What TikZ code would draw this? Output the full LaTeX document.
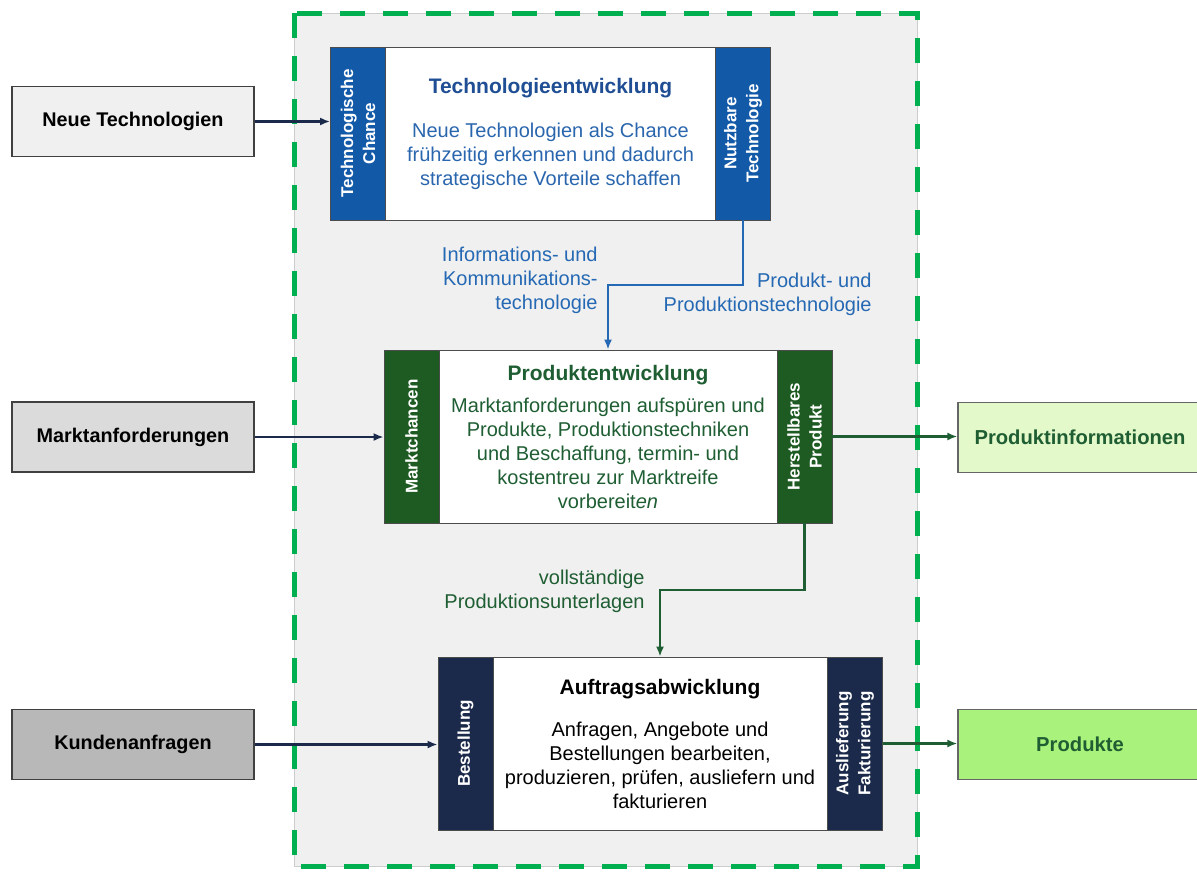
\documentclass[tikz,border=0pt]{standalone}
\usepackage{fontspec}
\setmainfont{Liberation Sans}
\usetikzlibrary{arrows.meta,positioning,calc}
\definecolor{ProcBlue}{HTML}{1259A8}
\definecolor{ProcBlueText}{HTML}{2A66AE}
\definecolor{ProcBlueHead}{HTML}{1F4E94}
\definecolor{ProcGreen}{HTML}{1E5B22}
\definecolor{ProcGreenText}{HTML}{1F5E33}
\definecolor{ProcNavy}{HTML}{1B2A4A}
\definecolor{FrameGreen}{HTML}{00B050}
\definecolor{FrameGray}{HTML}{F0F0F0}
\definecolor{LinkBlue}{HTML}{2569B4}
\definecolor{OutGreenA}{HTML}{E3F9C9}
\definecolor{OutGreenB}{HTML}{A9F27B}
\tikzset{
  strip/.style={draw=gray!60!black,line width=0.4pt,minimum width=27.5pt,minimum height=86.5pt,inner sep=0pt},
  striptxt/.style={rotate=90,text=white,align=center,font=\fontsize{8.5}{11}\selectfont\bfseries},
  body/.style={draw=gray!60!black,line width=0.4pt,fill=white,minimum height=86.5pt,inner sep=0pt,align=center,font=\fontsize{10}{12}\selectfont},
  inbox/.style={draw=black!75,line width=0.6pt,minimum width=121pt,minimum height=35pt,font=\fontsize{9.9}{11}\selectfont\bfseries},
  outbox/.style={draw=black!60,line width=0.6pt,minimum width=122pt,minimum height=35pt,text=ProcGreenText,font=\fontsize{10.1}{11}\selectfont\bfseries},
  lbl/.style={align=right,anchor=east,inner sep=0pt,font=\fontsize{10}{12}\selectfont}
}

\begin{document}
\begin{tikzpicture}[x=0.5pt,y=-0.5pt,>={Latex[length=5pt,width=4pt]}]
  \useasboundingbox (0,0) rectangle (1197,873);
  \draw[gray!40,fill=FrameGray] (294,13) rectangle (917,866);
  \draw[FrameGreen,line width=2.5pt,dash pattern=on 12.5pt off 9pt] (294,13) rectangle (917,866);

  \node[strip,fill=ProcBlue] (techL) at (358,133.5) {};
  \node[body,minimum width=165.5pt,text=ProcBlueText] (techM) at (550.5,133.5)
    {{\color{ProcBlueHead}\bfseries\fontsize{10.5}{12}\selectfont Technologieentwicklung}\\[10pt]
     Neue Technologien als Chance\\ frühzeitig erkennen und dadurch\\ strategische Vorteile schaffen};
  \node[strip,fill=ProcBlue] (techR) at (743,133.5) {};
  \node[striptxt] at (techL) {Technologische\\Chance};
  \node[striptxt] at (techR) {Nutzbare\\Technologie};

  \node[strip,fill=ProcGreen] (prodL) at (411.5,436.5) {};
  \node[body,minimum width=169pt,text=ProcGreenText] (prodM) at (608,436.5)
    {{\bfseries\fontsize{10.5}{12}\selectfont Produktentwicklung}\\[4pt]
     Marktanforderungen aufspüren und\\ Produkte, Produktionstechniken\\ und Beschaffung, termin- und\\
     kostentreu zur Marktreife\\ vorbereit\textit{en}};
  \node[strip,fill=ProcGreen] (prodR) at (804.5,436.5) {};
  \node[striptxt] at (prodL) {Marktchancen};
  \node[striptxt] at (prodR) {Herstellbares\\Produkt};

  \node[strip,fill=ProcNavy] (auftL) at (465.5,743.5) {};
  \node[body,minimum width=167pt] (auftM) at (660,743.5)
    {{\bfseries\fontsize{10.5}{12}\selectfont Auftragsabwicklung}\\[9pt]
     Anfragen, Angebote und\\ Bestellungen bearbeiten,\\ produzieren, prüfen, ausliefern und\\ fakturieren};
  \node[strip,fill=ProcNavy] (auftR) at (855,743.5) {};
  \node[striptxt] at (auftL) {Bestellung};
  \node[striptxt] at (auftR) {Auslieferung\\Fakturierung};

  \node[inbox,fill=black!6] (neu) at (133,121.5) {Neue Technologien};
  \node[inbox,fill=black!14] (markt) at (133,437) {Marktanforderungen};
  \node[inbox,fill=black!28] (kunden) at (133,744.5) {Kundenanfragen};
  \node[outbox,fill=OutGreenA] (pinfo) at (1080,437.5) {Produktinformationen};
  \node[outbox,fill=OutGreenB] (produkte) at (1080,744.5) {Produkte};

  \draw[->,ProcNavy,line width=1.2pt] (neu.east) -- (neu.east -| techL.west);
  \draw[->,ProcNavy,line width=1.2pt] (markt.east) -- (markt.east -| prodL.west);
  \draw[->,ProcNavy,line width=1.2pt] (kunden.east) -- (kunden.east -| auftL.west);
  \draw[->,ProcGreenText,line width=1.2pt] (prodR.east) -- (prodR.east -| pinfo.west);
  \draw[->,ProcGreenText,line width=1.2pt] (auftR.east) -- (auftR.east -| produkte.west);

  \coordinate (k1) at (743,285);
  \coordinate (k2) at (804.5,590);
  \draw[->,LinkBlue,line width=1.3pt] (techR.south) -- (k1) -| (prodM.north);
  \draw[->,ProcGreenText,line width=1.3pt] (prodR.south) -- (k2) -| (auftM.north);

  \node[lbl,text=LinkBlue] (ikt) at (598,280) {Informations- und\\ Kommunikations-\\ technologie};
  \node[lbl,text=LinkBlue] (ppt) at (872,294) {Produkt- und\\ Produktionstechnologie};
  \node[lbl,text=ProcGreenText] (vpu) at (645,591) {vollständige\\ Produktionsunterlagen};
\end{tikzpicture}
\end{document}
